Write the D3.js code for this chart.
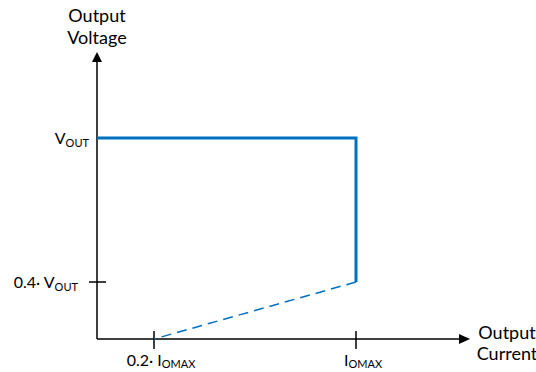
<!DOCTYPE html>
<html>
<head>
<meta charset="utf-8">
<script src="https://cdn.jsdelivr.net/npm/d3@7"></script>
<style>
  body { margin: 0; background: #fff; }
  svg text { font-family: Lato, "Open Sans", sans-serif; fill: #000; }
</style>
</head>
<body>
<div id="chart"></div>
<script>
// values in units of I_OMAX (x) and V_OUT (y)
const xTickValues = [0.2, 1];
const xTickMain = ["0.2· I", "I"];
const xTickSub = ["OMAX", "OMAX"];
const yTickValues = [1, 0.4];
const yTickMain = ["V", "0.4· V"];
const yTickSub = ["OUT", "OUT"];
const yTickMark = [false, true];

const solidX = [0, 1, 1];
const solidY = [1, 1, 0.4];
const dashedX = [1, 0.2];
const dashedY = [0.4, 0];

const width = 536;
const height = 372;
const blue = "#0070C0";

const svg = d3.select("#chart").append("svg")
    .attr("width", width)
    .attr("height", height);

// schematic chart, not drawn to scale -> piecewise scales
const x = d3.scaleLinear().domain([0, 0.2, 1, 1.45]).range([97, 154, 356, 470]);
const y = d3.scaleLinear().domain([0, 0.4, 1, 1.3]).range([339, 282, 138, 52]);

// axes
svg.append("line")
    .attr("x1", x(0)).attr("y1", y(0))
    .attr("x2", x(0)).attr("y2", y(1.3) + 9)
    .attr("stroke", "black").attr("stroke-width", 1.5);
svg.append("line")
    .attr("x1", x(0)).attr("y1", y(0))
    .attr("x2", x(1.45) - 10).attr("y2", y(0))
    .attr("stroke", "black").attr("stroke-width", 1.5);

// arrow heads
svg.append("path")
    .attr("d", `M${x(0)},${y(1.3)} L${x(0) - 5},${y(1.3) + 10} L${x(0) + 5},${y(1.3) + 10} Z`)
    .attr("fill", "black");
svg.append("path")
    .attr("d", `M${x(1.45)},${y(0)} L${x(1.45) - 11},${y(0) - 5} L${x(1.45) - 11},${y(0) + 5} Z`)
    .attr("fill", "black");

// x ticks
svg.selectAll(".xtick")
    .data(xTickValues)
    .enter()
    .append("line")
    .attr("x1", d => x(d)).attr("x2", d => x(d))
    .attr("y1", y(0) - 8).attr("y2", y(0) + 10)
    .attr("stroke", "black").attr("stroke-width", 1.5);

const xLab = svg.selectAll(".xlab")
    .data(xTickValues)
    .enter()
    .append("text")
    .attr("x", d => x(d) + 7)
    .attr("y", y(0) + 27)
    .attr("text-anchor", "middle")
    .attr("font-size", 16);
xLab.append("tspan").text((d, i) => xTickMain[i]);
xLab.append("tspan").attr("font-size", 11).attr("dy", 2).text((d, i) => xTickSub[i]);

// y ticks
svg.selectAll(".ytick")
    .data(yTickValues.filter((d, i) => yTickMark[i]))
    .enter()
    .append("line")
    .attr("x1", x(0) - 8).attr("x2", x(0) + 9)
    .attr("y1", d => y(d)).attr("y2", d => y(d))
    .attr("stroke", "black").attr("stroke-width", 1.5);

const yLab = svg.selectAll(".ylab")
    .data(yTickValues)
    .enter()
    .append("text")
    .attr("x", (d, i) => x(0) - (yTickMark[i] ? 19 : 8))
    .attr("y", d => y(d) + 6)
    .attr("text-anchor", "end")
    .attr("font-size", 16);
yLab.append("tspan").text((d, i) => yTickMain[i]);
yLab.append("tspan").attr("font-size", 11).attr("dy", 3).text((d, i) => yTickSub[i]);

// curves
const line = d3.line().x(d => x(d[0])).y(d => y(d[1]));
svg.append("path")
    .datum(solidX.map((d, i) => [d, solidY[i]]))
    .attr("d", line)
    .attr("fill", "none")
    .attr("stroke", blue)
    .attr("stroke-width", 3);
svg.append("path")
    .datum(dashedX.map((d, i) => [d, dashedY[i]]))
    .attr("d", line)
    .attr("fill", "none")
    .attr("stroke", blue)
    .attr("stroke-width", 1.5)
    .attr("stroke-dasharray", "10,6");

// axis titles
svg.append("text")
    .attr("text-anchor", "middle").attr("font-size", 18)
    .selectAll("tspan")
    .data(["Output", "Voltage"])
    .enter()
    .append("tspan")
    .attr("x", x(0))
    .attr("y", (d, i) => 22 + i * 22)
    .text(d => d);

svg.append("text")
    .attr("text-anchor", "middle").attr("font-size", 18)
    .selectAll("tspan")
    .data(["Output", "Current"])
    .enter()
    .append("tspan")
    .attr("x", 507)
    .attr("y", (d, i) => 339 + i * 21)
    .text(d => d);
</script>
</body>
</html>
